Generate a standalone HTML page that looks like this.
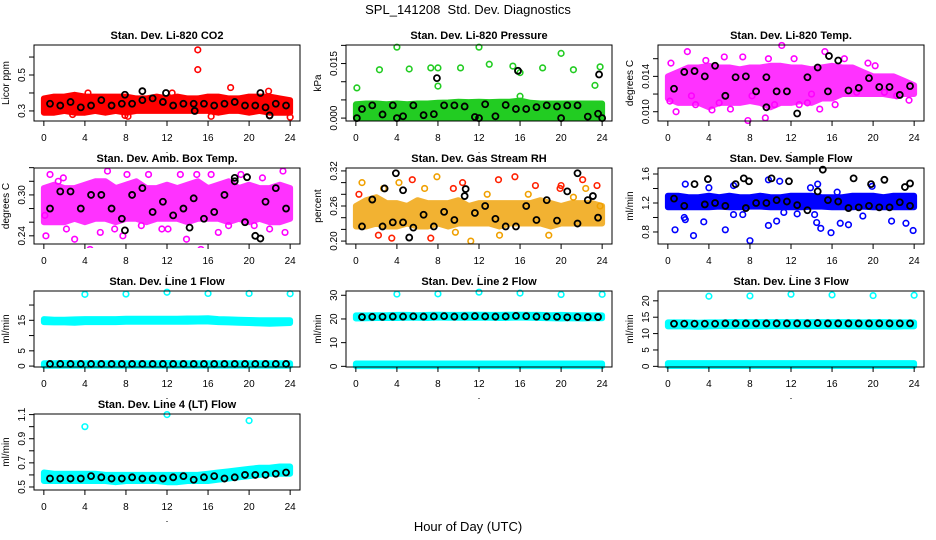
<!DOCTYPE html>
<html><head><meta charset="utf-8"><style>
html,body{margin:0;padding:0;background:#fff;}
svg{display:block;font-family:"Liberation Sans",sans-serif;}
</style></head><body>
<svg id="chart" width="936" height="540" viewBox="0 0 936 540" xmlns="http://www.w3.org/2000/svg">
<rect width="936" height="540" fill="#fff"/>
<text x="468" y="14" text-anchor="middle" font-size="13">SPL_141208&#160; Std. Dev. Diagnostics</text>
<text x="468" y="531" text-anchor="middle" font-size="13">Hour of Day (UTC)</text>
</svg>
<script>
const bandHours = [0,1,2,3,4,5,6,7,8,9,10,11,12,13,14,15,16,17,18,19,20,21,22,23,24];
const blackHours = [0.6,1.6,2.6,3.6,4.6,5.6,6.6,7.6,8.6,9.6,10.6,11.6,12.6,13.6,14.6,15.6,16.6,17.6,18.6,19.6,20.6,21.6,22.6,23.6];
const xTicks = [0,4,8,12,16,20,24];

const co2Lo = [0.29,0.29,0.30,0.29,0.29,0.30,0.29,0.30,0.29,0.30,0.30,0.30,0.30,0.30,0.30,0.30,0.30,0.29,0.30,0.30,0.29,0.30,0.29,0.29,0.29];
const co2Hi = [0.37,0.38,0.38,0.39,0.38,0.38,0.38,0.38,0.38,0.37,0.37,0.38,0.37,0.38,0.37,0.37,0.38,0.38,0.37,0.37,0.38,0.38,0.38,0.37,0.36];
const co2Black = [0.34,0.33,0.35,0.32,0.33,0.36,0.33,0.34,0.34,0.36,0.37,0.35,0.33,0.34,0.34,0.34,0.33,0.34,0.35,0.33,0.33,0.32,0.34,0.33];
const co2Pts = [[15,0.64],[15,0.53],[18.2,0.43],[7.9,0.275],[8.2,0.27],[24,0.265],[22,0.275],[2.8,0.28],[4.3,0.4],[14.8,0.3],[16.3,0.27],[19.9,0.31],[21.9,0.41],[12.5,0.4]];
const co2BlackExtra = [[9.6,0.41],[11.9,0.40],[21.1,0.40],[7.9,0.39],[14.7,0.30],[22.0,0.275]];

const presLo = [0,0,0,0,0,0,0,0,0,0,0,0,0,0,0,0,0,0,0,0,0,0,0,0,0];
const presHi = [0.0038,0.004,0.004,0.0038,0.004,0.0038,0.004,0.004,0.0042,0.0043,0.0045,0.0044,0.0045,0.0044,0.0045,0.0045,0.0048,0.0042,0.004,0.004,0.004,0.004,0.004,0.004,0.004];
const presBlack = [0.0025,0.0035,0.001,0.0035,0.0005,0.0035,0.0008,0.0011,0.0035,0.0035,0.0032,0.0003,0.0038,0.0005,0.0036,0.0025,0.0025,0.003,0.0035,0.0032,0.0035,0.0035,0.0004,0.0012];
const presPts = [[0.1,0.0083],[2.3,0.0133],[4,0.0195],[5.2,0.0135],[7.3,0.0138],[8,0.0138],[8,0.0088],[10.2,0.0138],[12,0.0195],[13,0.0148],[15.3,0.0143],[16,0.0125],[16,0.006],[18.2,0.0138],[20,0.0178],[21.2,0.0133],[23.3,0.009],[23.8,0.0141]];
const presBlackExtra = [[7.9,0.011],[15.8,0.013],[23.7,0.012],[0.1,0],[4,0],[12,0],[20,0],[24,0]];

const tempLo = [0.0115,0.011,0.011,0.011,0.0105,0.011,0.011,0.011,0.0112,0.011,0.0105,0.011,0.011,0.0112,0.011,0.0115,0.0115,0.012,0.012,0.012,0.012,0.012,0.0118,0.012,0.012];
const tempHi = [0.014,0.0145,0.015,0.015,0.0152,0.015,0.015,0.0148,0.015,0.015,0.0152,0.0152,0.015,0.015,0.0148,0.015,0.0152,0.015,0.015,0.0145,0.014,0.014,0.014,0.0135,0.013];
const tempBlack = [0.0126,0.0145,0.0146,0.0140,0.0152,0.0118,0.0139,0.0140,0.0123,0.0139,0.0123,0.0123,0.0098,0.0139,0.0150,0.0123,0.0158,0.0124,0.0127,0.0138,0.0128,0.0128,0.0119,0.0129];
const tempPts = [[0.2,0.0112],[0.3,0.0155],[0.8,0.0100],[1.9,0.0168],[2.3,0.0118],[3.7,0.0158],[4.3,0.0102],[5.5,0.0162],[6.1,0.0103],[7.3,0.0162],[7.8,0.0090],[8.2,0.0118],[9.5,0.0093],[10.4,0.0108],[11.1,0.0175],[12.3,0.0160],[12.8,0.0108],[13.6,0.0110],[14.8,0.0103],[15.3,0.0168],[16.3,0.0108],[17.2,0.0160],[18.4,0.0122],[19.5,0.0155],[20.2,0.0152],[21.1,0.0122],[22.3,0.0118],[23.5,0.0113],[9.8,0.0160],[5.0,0.0110],[2.7,0.0108],[14.0,0.0120]];
const tempBlackExtra = [[15.7,0.0163],[9.6,0.0105]];

const ambLo = [0.26,0.26,0.26,0.265,0.26,0.265,0.265,0.26,0.265,0.265,0.26,0.265,0.265,0.265,0.26,0.265,0.265,0.265,0.26,0.265,0.26,0.265,0.26,0.26,0.265];
const ambHi = [0.31,0.315,0.31,0.31,0.315,0.32,0.32,0.31,0.315,0.32,0.31,0.31,0.315,0.31,0.315,0.32,0.31,0.315,0.32,0.31,0.315,0.31,0.31,0.315,0.31];
const ambBlack = [0.28,0.305,0.305,0.28,0.3,0.3,0.28,0.265,0.3,0.31,0.275,0.29,0.27,0.28,0.295,0.265,0.275,0.3,0.32,0.26,0.24,0.29,0.31,0.28];
const ambPts = [[0.2,0.24],[0.6,0.33],[1.9,0.325],[2.2,0.25],[3.0,0.235],[4.5,0.22],[5.5,0.245],[6.2,0.335],[6.9,0.25],[8.1,0.33],[9.5,0.255],[10.2,0.33],[11.5,0.25],[12.1,0.25],[13.3,0.33],[13.9,0.235],[14.9,0.33],[15.3,0.22],[16.3,0.33],[17.0,0.245],[18.0,0.255],[19.2,0.33],[20.5,0.255],[21.3,0.325],[22.0,0.25],[23.3,0.335],[23.5,0.245],[0.1,0.27],[1.4,0.32],[7.7,0.24]];
const ambBlackExtra = [[18.6,0.325],[19.8,0.326],[21.1,0.236],[7.9,0.248],[14.2,0.252]];

const rhLo = [0.225,0.225,0.23,0.225,0.225,0.23,0.225,0.225,0.23,0.225,0.23,0.23,0.23,0.23,0.225,0.23,0.23,0.23,0.23,0.225,0.23,0.23,0.23,0.23,0.23];
const rhHi = [0.26,0.27,0.275,0.265,0.265,0.26,0.27,0.265,0.265,0.265,0.27,0.26,0.265,0.265,0.265,0.265,0.265,0.265,0.27,0.265,0.26,0.265,0.265,0.265,0.26];
const rhBlack = [0.225,0.271,0.225,0.232,0.232,0.223,0.245,0.225,0.25,0.236,0.277,0.248,0.26,0.238,0.225,0.225,0.26,0.236,0.27,0.235,0.285,0.23,0.27,0.24];
const rhPts = [[0.6,0.3],[0.3,0.28],[2.7,0.29],[2.2,0.21],[4.2,0.3],[5.5,0.305],[6.7,0.29],[7.3,0.205],[7.9,0.31],[9.5,0.29],[9.7,0.215],[10.4,0.3],[12.8,0.28],[13.9,0.305],[14.0,0.21],[15.5,0.31],[16.8,0.28],[17.5,0.295],[18.8,0.21],[19.9,0.29],[21.2,0.275],[22.1,0.305],[22.4,0.29],[23.5,0.295],[23.8,0.26],[3.5,0.205],[11.2,0.2],[20.0,0.295]];
const rhBlackExtra = [[3.9,0.316],[21.6,0.316],[5.2,0.206],[2.8,0.29],[4.6,0.287],[10.7,0.289],[23.1,0.277]];

const flowLo = [1.14,1.14,1.14,1.14,1.14,1.15,1.14,1.14,1.15,1.15,1.14,1.14,1.14,1.14,1.15,1.15,1.14,1.14,1.14,1.15,1.14,1.14,1.14,1.14,1.14];
const flowHi = [1.3,1.3,1.28,1.28,1.3,1.28,1.3,1.28,1.28,1.3,1.28,1.28,1.3,1.3,1.3,1.28,1.28,1.28,1.3,1.3,1.3,1.28,1.3,1.3,1.3];
const flowBlack = [1.26,1.16,1.46,1.18,1.2,1.16,1.46,1.13,1.2,1.2,1.24,1.22,1.17,1.1,1.36,1.24,1.22,1.13,1.14,1.16,1.14,1.14,1.21,1.16];
const flowPts = [[0.7,0.83],[1.6,1.0],[1.7,0.97],[2.5,0.75],[3.5,0.94],[5.6,0.83],[6.4,1.04],[7.3,1.04],[8.0,0.68],[9.8,0.89],[10.6,0.95],[11.3,1.07],[12.6,1.05],[14.3,1.04],[14.5,0.93],[14.9,0.85],[15.9,0.79],[16.8,0.92],[17.6,0.9],[19.0,1.02],[21.8,0.95],[23.2,0.92],[23.9,0.82],[1.7,1.46],[4.0,1.41],[6.4,1.44],[9.8,1.52],[10.9,1.5],[13.9,1.41],[14.6,1.46],[19.9,1.43],[16.5,1.35]];
const flowBlackExtra = [[3.9,1.53],[7.4,1.54],[7.9,1.5],[10.1,1.54],[11.8,1.5],[15.1,1.66],[18.1,1.54],[19.8,1.46],[21.1,1.52],[23.1,1.42],[23.6,1.47]];

const l1Lo = [14.4,14.3,14.3,14.2,14.4,14.4,14.4,14.4,14.5,14.5,14.5,14.5,14.5,14.5,14.5,14.6,14.6,14.4,14.3,14.2,14.1,14.0,13.9,14.0,14.1];
const l1Hi = [15.4,15.2,15.2,15.3,15.4,15.4,15.4,15.4,15.5,15.5,15.5,15.5,15.5,15.5,15.6,15.6,15.7,15.4,15.3,15.2,15.1,15.0,15.0,15.0,15.0];
const l1ZeroLo = [0.1,0.1,0.1,0.1,0.1,0.1,0.1,0.1,0.1,0.1,0.1,0.1,0.1,0.1,0.1,0.1,0.1,0.1,0.1,0.1,0.1,0.1,0.1,0.1,0.1];
const l1ZeroHi = [0.9,0.9,1.0,0.9,0.9,0.9,0.9,0.9,0.9,0.9,0.9,0.9,1.0,0.9,0.9,0.9,0.9,0.9,0.9,0.9,0.9,0.9,0.9,0.9,0.9];
const l1Black = [0.7,0.7,0.7,0.7,0.7,0.7,0.7,0.7,0.7,0.7,0.7,0.7,0.7,0.7,0.7,0.7,0.7,0.7,0.7,0.7,0.7,0.7,0.7,0.7];
const l1Pts = [[4,23.5],[8,23.6],[12,24.2],[16,23.8],[20,23.8],[24,23.7]];

const l2Lo = [20.2,20.3,20.4,20.4,20.4,20.5,20.5,20.4,20.6,20.5,20.5,20.5,20.5,20.5,20.4,20.5,20.6,20.5,20.4,20.3,20.2,20.3,20.2,20.3,20.3];
const l2Hi = [21.5,21.5,21.6,21.6,21.7,21.7,21.6,21.7,21.8,21.7,21.7,21.8,21.8,21.7,21.7,21.8,21.8,21.7,21.7,21.6,21.7,21.6,21.6,21.5,21.5];
const l2ZeroLo = [0.1,0.1,0.1,0.1,0.1,0.1,0.1,0.1,0.1,0.1,0.1,0.1,0.1,0.1,0.1,0.1,0.1,0.1,0.1,0.1,0.1,0.1,0.1,0.1,0.1];
const l2ZeroHi = [1.2,1.2,1.2,1.2,1.2,1.2,1.2,1.2,1.2,1.2,1.2,1.2,1.2,1.2,1.2,1.2,1.2,1.2,1.2,1.2,1.2,1.2,1.2,1.2,1.2];
const l2Black = [20.8,20.9,20.9,21.0,21.0,21.1,21.0,21.1,21.2,21.0,21.1,21.2,21.1,21.0,21.1,21.3,21.2,21.0,21.0,20.9,20.7,20.8,20.8,20.8];
const l2Pts = [[4,30.5],[8,30.6],[12,31.3],[16,30.9],[20,30.3],[24,30.4]];

const l3Lo = [12.2,12.2,12.2,12.1,12.2,12.3,12.3,12.3,12.3,12.3,12.3,12.3,12.3,12.3,12.3,12.3,12.3,12.3,12.2,12.2,12.1,12.2,12.1,12.2,12.2];
const l3Hi = [13.4,13.4,13.4,13.3,13.4,13.4,13.5,13.5,13.5,13.5,13.5,13.5,13.5,13.5,13.5,13.5,13.5,13.5,13.5,13.4,13.5,13.5,13.4,13.4,13.4];
const l3ZeroLo = [0.1,0.1,0.1,0.1,0.1,0.1,0.1,0.1,0.1,0.1,0.1,0.1,0.1,0.1,0.1,0.1,0.1,0.1,0.1,0.1,0.1,0.1,0.1,0.1,0.1];
const l3ZeroHi = [1.0,1.0,1.0,1.0,1.0,1.0,1.0,1.0,1.0,1.0,1.0,1.0,1.0,1.0,1.0,1.0,1.0,1.0,1.0,1.0,1.0,1.0,1.0,1.0,1.0];
const l3Black = [13.0,13.0,13.0,13.0,13.0,13.1,13.1,13.1,13.1,13.1,13.1,13.1,13.1,13.1,13.2,13.1,13.1,13.1,13.1,13.1,13.1,13.1,13.1,13.1];
const l3Pts = [[4,21.4],[8,21.5],[12,22.0],[16,21.8],[20,21.6],[24,21.7]];

const l4Lo = [0.55,0.55,0.55,0.55,0.55,0.55,0.55,0.54,0.55,0.55,0.55,0.55,0.54,0.54,0.55,0.55,0.55,0.56,0.57,0.58,0.59,0.6,0.61,0.61,0.61];
const l4Hi = [0.62,0.61,0.61,0.61,0.61,0.61,0.6,0.6,0.6,0.6,0.6,0.6,0.6,0.6,0.6,0.6,0.61,0.62,0.63,0.64,0.65,0.66,0.66,0.67,0.67];
const l4Black = [0.57,0.57,0.57,0.57,0.59,0.58,0.57,0.57,0.58,0.57,0.57,0.57,0.58,0.59,0.56,0.58,0.59,0.57,0.58,0.6,0.6,0.6,0.61,0.62];
const l4Pts = [[4,1.0],[12,1.1],[20,1.05]];

const svg = document.getElementById('chart');
const NS = 'http://www.w3.org/2000/svg';
function mk(tag, attrs, parent) {
  const el = document.createElementNS(NS, tag);
  for (const k in attrs) el.setAttribute(k, attrs[k]);
  (parent || svg).appendChild(el);
  return el;
}

const panels = [
 {key:'co2', title:'Stan. Dev. Li-820 CO2', ylab:'Licor ppm', col:0,row:0, y0:0.244,y1:0.667, ticks:[0.3,0.4,0.5,0.6], labels:['0.3','','0.5',''], color:'#ff0000', op:1,
  bands:[[co2Lo,co2Hi]], pts:co2Pts, black:co2Black, blackExtra:co2BlackExtra},
 {key:'pressure', title:'Stan. Dev. Li-820 Pressure', ylab:'kPa', col:1,row:0, y0:-0.0008,y1:0.0201, ticks:[0,0.005,0.01,0.015,0.02], labels:['0.000','','','0.015',''], color:'#22cc22', op:1,
  bands:[[presLo,presHi]], pts:presPts, black:presBlack, blackExtra:presBlackExtra},
 {key:'temp', title:'Stan. Dev. Li-820 Temp.', ylab:'degrees C', col:2,row:0, y0:0.00895,y1:0.01755, ticks:[0.010,0.012,0.014,0.016], labels:['0.010','','0.014',''], color:'#ff00ff', op:0.8,
  bands:[[tempLo,tempHi]], pts:tempPts, black:tempBlack, blackExtra:tempBlackExtra},
 {key:'amb', title:'Stan. Dev. Amb. Box Temp.', ylab:'degrees C', col:0,row:1, y0:0.228,y1:0.3395, ticks:[0.24,0.26,0.28,0.30,0.32,0.34], labels:['0.24','','','0.30','',''], color:'#ff00ff', op:0.8,
  bands:[[ambLo,ambHi]], pts:ambPts, black:ambBlack, blackExtra:ambBlackExtra},
 {key:'rh', title:'Stan. Dev. Gas Stream RH', ylab:'percent', col:1,row:1, y0:0.195,y1:0.325, ticks:[0.20,0.22,0.24,0.26,0.28,0.30,0.32], labels:['0.20','','','0.26','','','0.32'], color:'#f0a000', op:0.8,
  bands:[[rhLo,rhHi]], pts:rhPts, black:rhBlack, blackExtra:rhBlackExtra},
 {key:'sample-flow', title:'Stan. Dev. Sample Flow', ylab:'ml/min', col:2,row:1, y0:0.634,y1:1.683, ticks:[0.8,1.0,1.2,1.4,1.6], labels:['0.8','','1.2','','1.6'], color:'#0000ff', op:1,
  bands:[[flowLo,flowHi]], pts:flowPts, black:flowBlack, blackExtra:flowBlackExtra},
 {key:'line1', title:'Stan. Dev. Line 1 Flow', ylab:'ml/min', col:0,row:2, y0:-0.3,y1:24.6, ticks:[0,5,10,15,20], labels:['0','5','','15',''], color:'#00ffff', op:1,
  bands:[[l1Lo,l1Hi],[l1ZeroLo,l1ZeroHi]], pts:l1Pts, black:l1Black, blackExtra:[]},
 {key:'line2', title:'Stan. Dev. Line 2 Flow', ylab:'ml/min', col:1,row:2, y0:-0.28,y1:31.8, ticks:[0,10,20,30], labels:['0','10','20','30'], color:'#00ffff', op:1,
  bands:[[l2Lo,l2Hi],[l2ZeroLo,l2ZeroHi]], pts:l2Pts, black:l2Black, blackExtra:[]},
 {key:'line3', title:'Stan. Dev. Line 3 Flow', ylab:'ml/min', col:2,row:2, y0:-0.2,y1:23.0, ticks:[0,5,10,15,20], labels:['0','5','10','15','20'], color:'#00ffff', op:1,
  bands:[[l3Lo,l3Hi],[l3ZeroLo,l3ZeroHi]], pts:l3Pts, black:l3Black, blackExtra:[]},
 {key:'line4', title:'Stan. Dev. Line 4 (LT) Flow', ylab:'ml/min', col:0,row:3, y0:0.475,y1:1.105, ticks:[0.5,0.6,0.7,0.8,0.9,1.0,1.1], labels:['0.5','','0.7','','0.9','','1.1'], color:'#00ffff', op:1,
  bands:[[l4Lo,l4Hi]], pts:l4Pts, black:l4Black, blackExtra:[]}
];

panels.forEach(p => {
  const L = 34 + 312 * p.col, T = 45 + 123 * p.row, W = 266, H = 76;
  const sx = h => L + (h + 0.96) / 25.92 * W;
  const sy = v => T + H - (v - p.y0) / (p.y1 - p.y0) * H;
  const g = mk('g', {});
  
  
  const clipId = 'clip-' + p.key;
  const cp = mk('clipPath', {id: clipId}, g);
  mk('rect', {x: L - 4, y: T - 4, width: W + 8, height: H + 8}, cp);
  const marks = mk('g', {'clip-path': 'url(#' + clipId + ')'}, g);

  p.bands.forEach((b, bi) => {
    const [lo, hi] = b;
    let d = '';
    bandHours.forEach((h, i) => { d += (i ? 'L' : 'M') + sx(h).toFixed(1) + ' ' + sy(hi[i]).toFixed(1); });
    for (let i = bandHours.length - 1; i >= 0; i--) d += 'L' + sx(bandHours[i]).toFixed(1) + ' ' + sy(lo[i]).toFixed(1);
    const band = mk('path', {d: d + 'Z', fill: p.color, stroke: p.color, 'stroke-width': 6, 'stroke-linejoin': 'round', opacity: p.op}, marks);
    
    
  });
  p.pts.forEach((pt, i) => {
    const c = mk('circle', {cx: sx(pt[0]), cy: sy(pt[1]), r: 2.8, fill: 'none', stroke: (p.key === 'rh' && i % 2) ? '#ff2000' : p.color, 'stroke-width': 1.6}, marks);
    
    
  });
  p.black.forEach((v, i) => {
    const c = mk('circle', {cx: sx(blackHours[i]), cy: sy(v), r: 3, fill: 'none', stroke: '#000', 'stroke-width': 1.8}, marks);
    
    
  });
  p.blackExtra.forEach(pt => {
    const c = mk('circle', {cx: sx(pt[0]), cy: sy(pt[1]), r: 3, fill: 'none', stroke: '#000', 'stroke-width': 1.8}, marks);
    
    
  });

  const box = mk('rect', {x: L, y: T, width: W, height: H, fill: 'none', stroke: '#000', 'stroke-width': 1}, g);
  
  

  const t = mk('text', {x: L + W / 2, y: T - 6, 'text-anchor': 'middle', 'font-size': 11, 'font-weight': 'bold'}, g);
  t.textContent = p.title;
  
  

  xTicks.forEach(h => {
    mk('line', {x1: sx(h), x2: sx(h), y1: T + H, y2: T + H + 5, stroke: '#000'}, g);
    const tl = mk('text', {x: sx(h), y: T + H + 20, 'text-anchor': 'middle', 'font-size': 10}, g);
    tl.textContent = h;
    
    
  });
  p.ticks.forEach((v, i) => {
    mk('line', {x1: L - 5, x2: L, y1: sy(v), y2: sy(v), stroke: '#000'}, g);
    if (p.labels[i]) {
      const yl = mk('text', {x: L - 9, y: sy(v), 'text-anchor': 'middle', 'font-size': 10, transform: 'rotate(-90 ' + (L - 9) + ' ' + sy(v) + ')'}, g);
      yl.textContent = p.labels[i];
      
      
    }
  });
  const yt = L - 25, ym = T + H / 2;
  const ylab = mk('text', {x: yt, y: ym, 'text-anchor': 'middle', 'font-size': 10, transform: 'rotate(-90 ' + yt + ' ' + ym + ')'}, g);
  ylab.textContent = p.ylab;
  
  
  mk('rect', {x: L + W / 2 - 0.5, y: T + H + 31, width: 1, height: 1, fill: '#000'}, g);
});
</script>
</body></html>
